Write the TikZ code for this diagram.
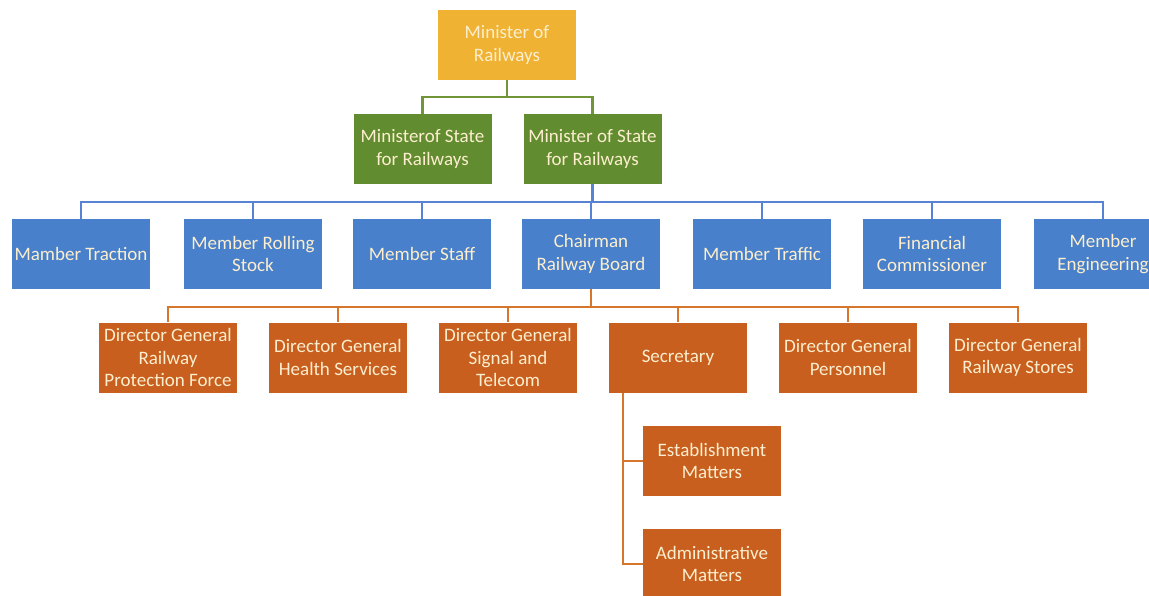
\documentclass[tikz,border=0pt]{standalone}
\usepackage{fontspec}
\setmainfont{Carlito}
\definecolor{goldfill}{RGB}{240,178,50}
\definecolor{greenfill}{RGB}{98,140,48}
\definecolor{bluefill}{RGB}{72,128,204}
\definecolor{orangefill}{RGB}{200,95,30}
\definecolor{boxtext}{RGB}{252,238,206}
\definecolor{greenline}{RGB}{112,150,56}
\definecolor{blueline}{RGB}{88,130,212}
\definecolor{orangeline}{RGB}{214,118,44}
\begin{document}
\begin{tikzpicture}[x=1pt,y=-1pt,
  box/.style={rectangle, minimum width=138pt, minimum height=70pt, inner sep=0pt,
    align=center, text=boxtext, font=\fontsize{19}{22.5}\selectfont},
  goldbox/.style={box, fill=goldfill},
  greenbox/.style={box, fill=greenfill},
  bluebox/.style={box, fill=bluefill},
  orangebox/.style={box, fill=orangefill},
  link/.style={line width=2.3pt},
  glink/.style={link, draw=greenline},
  blink/.style={link, draw=blueline},
  olink/.style={link, draw=orangeline}]
\clip (0,0) rectangle (1149,596);
\fill[white] (0,0) rectangle (1149,596);

% minister
\node[goldbox] (mr) at (507,45) {Minister of\\Railways};

% ministers of state
\node[greenbox] (ms1) at (422.5,149) {Ministerof State\\for Railways};
\node[greenbox] (ms2) at (592.5,149) {Minister of State\\for Railways};

% railway board members
\node[bluebox] (mt)  at (81,254)   {Mamber Traction};
\node[bluebox] (mrs) at (253,254)  {Member Rolling\\Stock};
\node[bluebox] (mst) at (422,254)  {Member Staff};
\node[bluebox] (crb) at (591,254)  {Chairman\\Railway Board};
\node[bluebox] (mtr) at (762,254)  {Member Traffic};
\node[bluebox] (fc)  at (932,254)  {Financial\\Commissioner};
\node[bluebox] (me)  at (1103,254) {Member\\Engineering};

% directorates under the chairman
\node[orangebox] (dg1) at (168,357.5)  {Director General\\Railway\\Protection Force};
\node[orangebox] (dg2) at (338,357.5)  {Director General\\Health Services};
\node[orangebox] (dg3) at (508,357.5)  {Director General\\Signal and\\Telecom};
\node[orangebox] (sec) at (678,357.5)  {Secretary};
\node[orangebox] (dg5) at (848,357.5)  {Director General\\Personnel};
\node[orangebox] (dg6) at (1018,357.5) {Director General\\Railway Stores};

% secretary's branches
\node[orangebox] (est) at (712,461) {Establishment\\Matters};
\node[orangebox] (adm) at (712,564) {Administrative\\Matters};

% connectors: minister -> ministers of state
\coordinate (gbus) at (0,97);
\draw[glink] (mr.south) -- (mr.south |- gbus);
\draw[glink] (ms1.north) |- (ms2.north |- gbus) -- (ms2.north);

% connectors: minister of state -> board
\coordinate (bbus) at (0,202);
\draw[blink] (ms2.south) -- (ms2.south |- bbus);
\draw[blink] (mt.north) |- (me.north |- bbus) -- (me.north);
\foreach \n in {mrs,mst,crb,mtr,fc}
  \draw[blink] (\n.north) -- (\n.north |- bbus);

% connectors: chairman -> directorates
\coordinate (obus) at (0,307);
\draw[olink] (crb.south) -- (crb.south |- obus);
\draw[olink] (dg1.north) |- (dg6.north |- obus) -- (dg6.north);
\foreach \n in {dg2,dg3,sec,dg5}
  \draw[olink] (\n.north) -- (\n.north |- obus);

% connectors: secretary -> branches
\coordinate (stap) at ([xshift=14pt]sec.south west);
\draw[olink] (stap) |- (adm.west);
\draw[olink] (stap |- est.west) -- (est.west);
\end{tikzpicture}
\end{document}
